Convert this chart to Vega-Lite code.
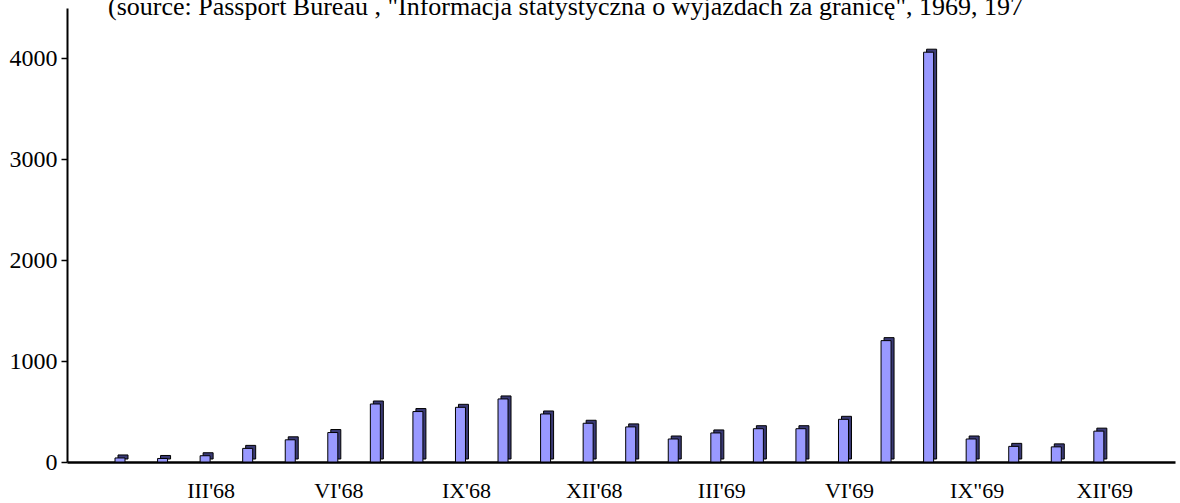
{
  "$schema": "https://vega.github.io/schema/vega-lite/v6.json",
  "width": 1108,
  "height": 454,
  "autosize": "none",
  "padding": {"left": 67, "top": 8, "right": 5, "bottom": 41},
  "background": "white",
  "title": {
    "text": "(source: Passport Bureau , \"Informacja statystyczna o wyjazdach za granicę\", 1969, 197",
    "anchor": "start",
    "frame": "group",
    "font": "Liberation Serif",
    "fontSize": 26,
    "fontWeight": "normal",
    "color": "black",
    "baseline": "alphabetic",
    "offset": -33,
    "dx": 41
  },
  "data": {
    "values": [
      {"m": "I'68", "v": 40},
      {"m": "II'68", "v": 35},
      {"m": "III'68", "v": 62},
      {"m": "IV'68", "v": 135},
      {"m": "V'68", "v": 220},
      {"m": "VI'68", "v": 292},
      {"m": "VII'68", "v": 575},
      {"m": "VIII'68", "v": 500},
      {"m": "IX'68", "v": 542},
      {"m": "X'68", "v": 625},
      {"m": "XI'68", "v": 476},
      {"m": "XII'68", "v": 384},
      {"m": "I'69", "v": 348},
      {"m": "II'69", "v": 228},
      {"m": "III'69", "v": 288},
      {"m": "IV'69", "v": 330},
      {"m": "V'69", "v": 330},
      {"m": "VI'69", "v": 423},
      {"m": "VII'69", "v": 1203},
      {"m": "VIII'69", "v": 4062},
      {"m": "IX\"69", "v": 228},
      {"m": "X'69", "v": 155},
      {"m": "XI'69", "v": 150},
      {"m": "XII'69", "v": 306}
    ]
  },
  "encoding": {
    "x": {
      "field": "m",
      "type": "nominal",
      "sort": null,
      "scale": {
        "domain": ["_start", "I'68", "II'68", "III'68", "IV'68", "V'68", "VI'68", "VII'68", "VIII'68", "IX'68", "X'68", "XI'68", "XII'68", "I'69", "II'69", "III'69", "IV'69", "V'69", "VI'69", "VII'69", "VIII'69", "IX\"69", "X'69", "XI'69", "XII'69", "_end"],
        "paddingInner": 0.765,
        "paddingOuter": 0.4,
        "align": 0.16
      },
      "axis": {
        "title": null,
        "values": ["III'68", "VI'68", "IX'68", "XII'68", "III'69", "VI'69", "IX\"69", "XII'69"],
        "labelAngle": 0,
        "ticks": false,
        "labelPadding": 18,
        "labelOffset": 6,
        "labelFont": "Liberation Serif",
        "labelFontSize": 22,
        "labelColor": "black",
        "labelBaseline": "top",
        "domainColor": "black",
        "domainWidth": 2.5,
        "grid": false
      }
    },
    "y": {
      "field": "v",
      "type": "quantitative",
      "scale": {"domain": [0, 4500], "nice": false},
      "axis": {
        "title": null,
        "values": [0, 1000, 2000, 3000, 4000],
        "format": "d",
        "grid": false,
        "tickSize": 6,
        "tickColor": "black",
        "tickWidth": 1.5,
        "domainColor": "black",
        "domainWidth": 2,
        "labelFont": "Liberation Serif",
        "labelFontSize": 24,
        "labelColor": "black",
        "labelPadding": 4
      }
    }
  },
  "layer": [
    {
      "mark": {"type": "bar", "fill": "#3a3a75", "stroke": "black", "strokeWidth": 1, "xOffset": 3, "yOffset": -3, "y2Offset": -3}
    },
    {
      "mark": {"type": "bar", "fill": "#9999ff", "stroke": "black", "strokeWidth": 1}
    }
  ],
  "config": {
    "view": {"stroke": null}
  }
}
